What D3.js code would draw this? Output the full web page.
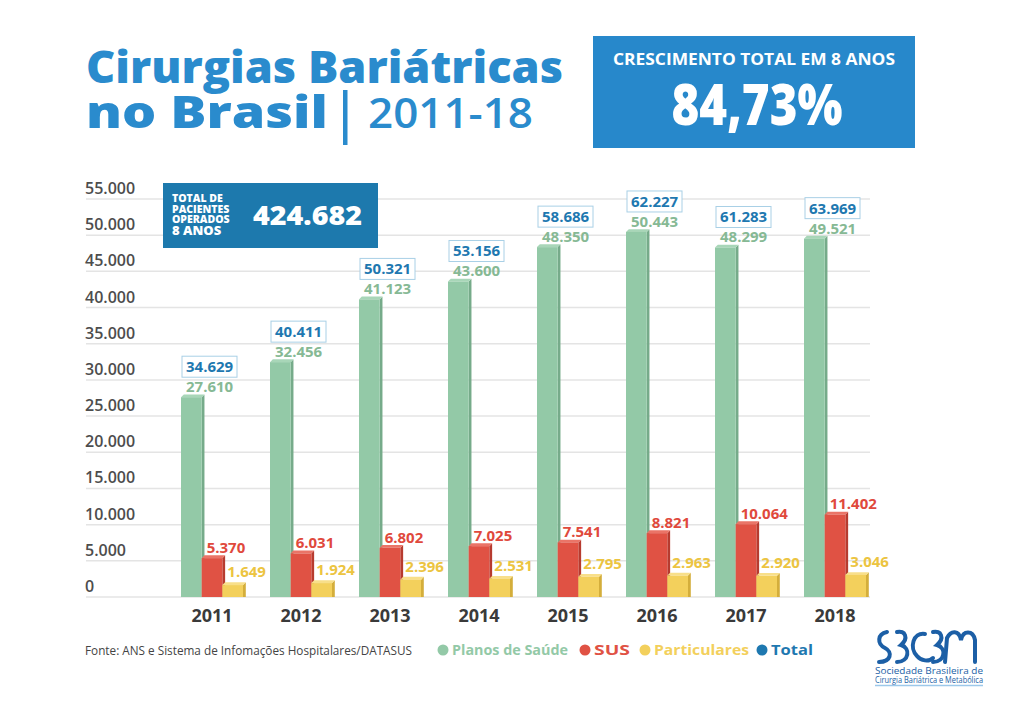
<!DOCTYPE html>
<html>
<head>
<meta charset="utf-8">
<script src="https://cdn.jsdelivr.net/npm/d3@7"></script>
<style>
  body { margin: 0; background: #fff; }
  svg { display: block; }
  text { font-family: "Open Sans", "Noto Sans", sans-serif; }
</style>
</head>
<body>
<div id="chart"></div>
<script>
const years = ["2011", "2012", "2013", "2014", "2015", "2016", "2017", "2018"];
const planos = [27610, 32456, 41123, 43600, 48350, 50443, 48299, 49521];
const sus = [5370, 6031, 6802, 7025, 7541, 8821, 10064, 11402];
const particulares = [1649, 1924, 2396, 2531, 2795, 2963, 2920, 3046];
const totals = [34629, 40411, 50321, 53156, 58686, 62227, 61283, 63969];
const seriesNames = ["Planos de Saúde", "SUS", "Particulares", "Total"];
const growthText = "84,73%";
const totalPatients = 424682;

// brazilian number format, 27.610
const br = d3.formatLocale({ decimal: ",", thousands: ".", grouping: [3], currency: ["R$", ""] });
const fmt = br.format(",d");

const colors = {
  "Planos de Saúde": { front: "#93c9a7", side: "#76ab8a", top: "#a8d6b8", text: "#86b994" },
  "SUS": { front: "#e05244", side: "#b73b2f", top: "#ea7467", text: "#e0493c" },
  "Particulares": { front: "#f3d05c", side: "#d4ae3b", top: "#f8df8a", text: "#ecc441" },
  "Total": { text: "#1e78b0" }
};

const W = 1024, H = 724;
const svg = d3.select("#chart").append("svg")
  .attr("width", W)
  .attr("height", H);

// title
svg.append("text")
  .attr("x", 86).attr("y", 83)
  .attr("fill", "#2a8bcd").attr("font-weight", 800).attr("font-size", 44)
  .attr("textLength", 477).attr("lengthAdjust", "spacingAndGlyphs")
  .text("Cirurgias Bariátricas");
svg.append("text")
  .attr("x", 86).attr("y", 128)
  .attr("fill", "#2a8bcd").attr("font-weight", 800).attr("font-size", 44)
  .attr("textLength", 242).attr("lengthAdjust", "spacingAndGlyphs")
  .text("no Brasil");
svg.append("rect")
  .attr("x", 343).attr("y", 90).attr("width", 4.5).attr("height", 55)
  .attr("fill", "#2a8bcd");
svg.append("text")
  .attr("x", 368).attr("y", 128)
  .attr("fill", "#2a8bcd").attr("font-weight", 600).attr("font-size", 42)
  .attr("textLength", 165).attr("lengthAdjust", "spacingAndGlyphs")
  .text("2011-18");

// growth box
svg.append("rect")
  .attr("x", 593).attr("y", 36).attr("width", 322).attr("height", 112)
  .attr("fill", "#2788cb");
svg.append("text")
  .attr("x", 754).attr("y", 65)
  .attr("text-anchor", "middle")
  .attr("fill", "#fff").attr("font-weight", 700).attr("font-size", 16.5)
  .attr("textLength", 282).attr("lengthAdjust", "spacingAndGlyphs")
  .text("CRESCIMENTO TOTAL EM 8 ANOS");
svg.append("text")
  .attr("x", 757).attr("y", 125)
  .attr("text-anchor", "middle")
  .attr("fill", "#fff").attr("font-weight", 800).attr("font-size", 56)
  .attr("textLength", 171).attr("lengthAdjust", "spacingAndGlyphs")
  .text(growthText);

// scales
const y = d3.scaleLinear()
  .domain([0, 55000])
  .range([597, 199]);

const x0 = d3.scaleBand()
  .domain(years)
  .range([167.5, 167.5 + 89 * years.length]);

const x1 = d3.scaleBand()
  .domain(seriesNames.slice(0, 3))
  .range([-31, 31]);

// gridlines + tick labels
const grid = svg.append("g");
grid.selectAll("line")
  .data(y.ticks(11))
  .enter().append("line")
  .attr("x1", 86).attr("x2", 870)
  .attr("y1", function(d) { return y(d); })
  .attr("y2", function(d) { return y(d); })
  .attr("stroke", "#e4e4e4")
  .attr("stroke-width", 1.5);
grid.selectAll("text")
  .data(y.ticks(11))
  .enter().append("text")
  .attr("x", 85)
  .attr("y", function(d) { return y(d) - 5; })
  .attr("fill", "#4d4d4d")
  .attr("font-weight", 600)
  .attr("font-size", 16)
  .text(function(d) { return fmt(d); });

// total patients box
const tb = svg.append("g");
tb.append("rect")
  .attr("x", 163).attr("y", 183).attr("width", 215).attr("height", 65)
  .attr("fill", "#1d79ad");
const tbLabel = tb.append("text")
  .attr("x", 172)
  .attr("fill", "#fff").attr("font-weight", 800);
["TOTAL DE", "PACIENTES", "OPERADOS"].forEach(function(s, i) {
  tbLabel.append("tspan")
    .attr("x", 172).attr("y", 202 + i * 10.6)
    .attr("font-size", 10.5)
    .text(s);
});
tbLabel.append("tspan")
  .attr("x", 172).attr("y", 235)
  .attr("font-size", 13)
  .text("8 ANOS");
tb.append("text")
  .attr("x", 253).attr("y", 225)
  .attr("fill", "#fff").attr("font-weight", 800).attr("font-size", 26)
  .attr("textLength", 109).attr("lengthAdjust", "spacingAndGlyphs")
  .text(fmt(totalPatients));

// bar data
const rows = [];
years.forEach(function(yr, i) {
  rows.push({ year: yr, key: "Planos de Saúde", value: planos[i] });
  rows.push({ year: yr, key: "SUS", value: sus[i] });
  rows.push({ year: yr, key: "Particulares", value: particulares[i] });
});

const d3off = 2.8; // depth of the fake 3D
const bw = x1.bandwidth();
const base = y(0);

const bars = svg.append("g").selectAll(".bar")
  .data(rows)
  .enter().append("g")
  .attr("class", "bar")
  .attr("transform", function(d) {
    return "translate(" + (x0(d.year) + x0.bandwidth() / 2 + x1(d.key)) + ",0)";
  });

bars.append("path")
  .attr("fill", function(d) { return colors[d.key].side; })
  .attr("d", function(d) {
    const t = y(d.value);
    return "M" + bw + "," + t + "L" + (bw + d3off) + "," + (t - d3off) +
      "L" + (bw + d3off) + "," + base + "L" + bw + "," + base + "Z";
  });
bars.append("path")
  .attr("fill", function(d) { return colors[d.key].top; })
  .attr("d", function(d) {
    const t = y(d.value);
    return "M0," + t + "L" + d3off + "," + (t - d3off) +
      "L" + (bw + d3off) + "," + (t - d3off) + "L" + bw + "," + t + "Z";
  });
bars.append("rect")
  .attr("x", 0)
  .attr("y", function(d) { return y(d.value); })
  .attr("width", bw)
  .attr("height", function(d) { return base - y(d.value); })
  .attr("fill", function(d) { return colors[d.key].front; });

bars.append("text")
  .attr("x", 5)
  .attr("y", function(d) { return y(d.value) - (d.key === "Particulares" ? 8 : 5); })
  .attr("fill", function(d) { return colors[d.key].text; })
  .attr("font-weight", 700)
  .attr("font-size", 15)
  .text(function(d) { return fmt(d.value); });

// total labels in boxes above the green bars
const tot = svg.append("g").selectAll(".total")
  .data(years.map(function(yr, i) { return { year: yr, value: totals[i], top: planos[i] }; }))
  .enter().append("g")
  .attr("class", "total")
  .attr("transform", function(d) {
    return "translate(" + (x0(d.year) + x0.bandwidth() / 2 + x1("Planos de Saúde") + 1) + "," + (y(d.top) - 41) + ")";
  });
tot.append("rect")
  .attr("width", 55).attr("height", 21)
  .attr("fill", "#fff")
  .attr("stroke", "#a9d0e6")
  .attr("stroke-width", 1);
tot.append("text")
  .attr("x", 4).attr("y", 16)
  .attr("fill", colors["Total"].text)
  .attr("font-weight", 700)
  .attr("font-size", 15)
  .text(function(d) { return fmt(d.value); });

// year labels
svg.append("g").selectAll(".year")
  .data(years)
  .enter().append("text")
  .attr("class", "year")
  .attr("x", function(d) { return x0(d) + x0.bandwidth() / 2; })
  .attr("y", 622)
  .attr("text-anchor", "middle")
  .attr("fill", "#3a3a3a")
  .attr("font-weight", 700)
  .attr("font-size", 18)
  .text(function(d) { return d; });

// source + legend
svg.append("text")
  .attr("x", 85).attr("y", 655)
  .attr("fill", "#444")
  .attr("font-size", 12.5)
  .attr("textLength", 327).attr("lengthAdjust", "spacingAndGlyphs")
  .text("Fonte: ANS e Sistema de Infomações Hospitalares/DATASUS");

const legendX = [443, 585, 645, 762];
const legendW = [116, 36, 95, 42];
const leg = svg.append("g").selectAll(".leg")
  .data(seriesNames)
  .enter().append("g")
  .attr("transform", function(d, i) { return "translate(" + legendX[i] + ",650)"; });
leg.append("circle")
  .attr("r", 5.5)
  .attr("fill", function(d) { return d === "Total" ? "#1e78b0" : colors[d].front; });
leg.append("text")
  .attr("x", 9).attr("y", 5)
  .attr("fill", function(d) { return d === "Total" ? "#1e78b0" : colors[d].front; })
  .attr("font-weight", 700)
  .attr("font-size", 14)
  .attr("textLength", function(d, i) { return legendW[i]; })
  .attr("lengthAdjust", "spacingAndGlyphs")
  .text(function(d) { return d; });

// logo (rough)
const logo = svg.append("g").attr("transform", "translate(875,628)");
const swirl = [
  "M12,4 C2,6 2,16 10,20 C18,24 16,34 4,34",
  "M22,4 C30,2 34,10 26,17 C36,20 34,34 22,34",
  "M50,6 C38,4 34,20 42,28 C46,33 54,34 58,30",
  "M58,4 C66,2 70,10 62,17 C72,20 70,34 58,34",
  "M70,34 L72,10 C76,2 84,2 86,12 C88,2 98,2 100,12 L100,34"
];
logo.selectAll("path")
  .data(swirl)
  .enter().append("path")
  .attr("d", function(d) { return d; })
  .attr("fill", "none")
  .attr("stroke", "#1c5fa6")
  .attr("stroke-width", 4)
  .attr("stroke-linecap", "round");
logo.append("text")
  .attr("x", 0).attr("y", 46)
  .attr("fill", "#1c5fa6").attr("font-size", 9)
  .attr("textLength", 108).attr("lengthAdjust", "spacingAndGlyphs")
  .text("Sociedade Brasileira de");
logo.append("text")
  .attr("x", 0).attr("y", 55)
  .attr("fill", "#1c5fa6").attr("font-size", 8.5)
  .attr("textLength", 108).attr("lengthAdjust", "spacingAndGlyphs")
  .text("Cirurgia Bariátrica e Metabólica");
logo.append("line")
  .attr("x1", 0).attr("x2", 108).attr("y1", 57.5).attr("y2", 57.5)
  .attr("stroke", "#9cc8ea").attr("stroke-width", 1.5);
</script>
</body>
</html>
